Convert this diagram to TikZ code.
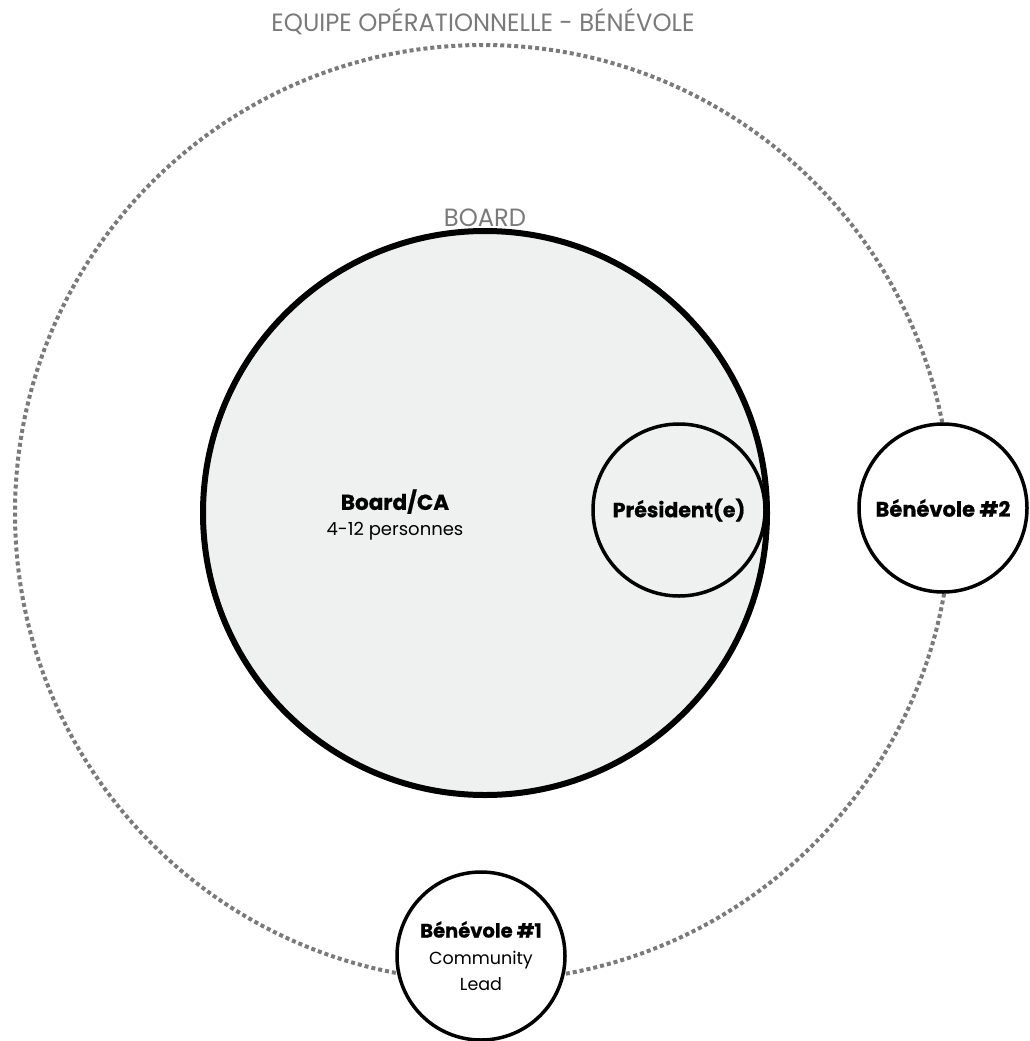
\documentclass[tikz,border=0pt]{standalone}
\usepackage{fontspec}
\setmainfont{Poppins}[BoldFeatures={FakeBold=0.8}]
\newfontfamily\titlefont[FakeStretch=0.97]{Poppins}
\definecolor{boardgray}{HTML}{EFF0F0}
\definecolor{labelgray}{HTML}{7A7A7A}
\tikzset{
  ring/.style={circle,draw=labelgray,line width=4pt,dash pattern=on 4pt off 3pt,inner sep=0pt},
  role/.style={circle,draw,line width=3.5pt,inner sep=0pt,align=center},
  grouplabel/.style={anchor=base,text=labelgray,inner sep=0pt,font=\titlefont\fontsize{25}{30}\selectfont},
}
\begin{document}
\begin{tikzpicture}[x=1pt,y=-1pt]
\useasboundingbox (0,0) rectangle (1029,1041);
\node (equipe) at (483,513) [ring,minimum size=936pt] {};
\node (equipetitle) at (483,32) [grouplabel] {EQUIPE OPÉRATIONNELLE - BÉNÉVOLE};
\node (board) at (485,513) [circle,draw,line width=6pt,fill=boardgray,inner sep=0pt,minimum size=564pt] {};
\node (boardtitle) at (485,226) [grouplabel] {BOARD};
\node (boardca) at (395,515) [align=center,font=\fontsize{18}{26}\selectfont] {{\bfseries\fontsize{21.5}{26}\selectfont Board/CA}\\4-12 personnes};
\node (president) at (679,510) [role,minimum size=172pt,font=\bfseries\fontsize{20.5}{24}\selectfont] {Président(e)};
\node (benevole2) at (943,508) [role,fill=white,minimum size=168pt,font=\bfseries\fontsize{21}{24}\selectfont] {Bénévole \#2};
\node (benevole1) at (481,956) [role,fill=white,minimum size=168pt,font=\fontsize{17.5}{26.5}\selectfont] {{\bfseries\fontsize{19.5}{26.5}\selectfont Bénévole \#1}\\Community\\Lead};
\end{tikzpicture}
\end{document}
